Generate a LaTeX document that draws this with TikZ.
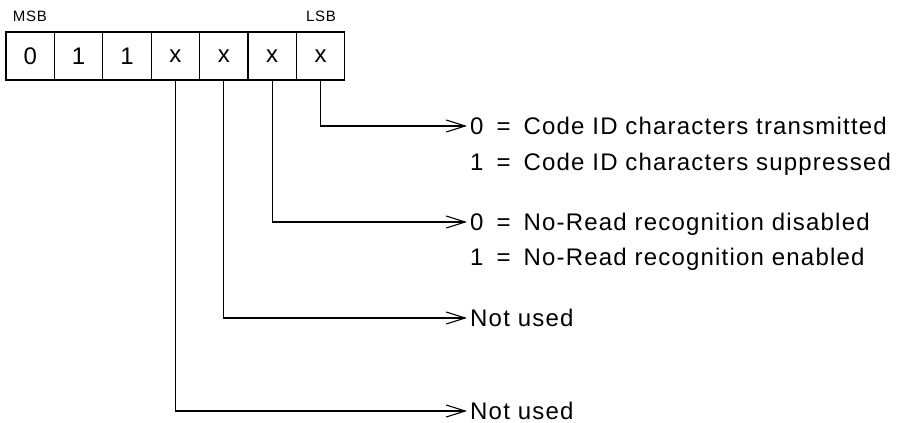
\documentclass[tikz,border=0pt]{standalone}
\usepackage{fontspec}
\setmainfont{Liberation Sans}
\newfontfamily\widefont[LetterSpace=5]{Liberation Sans}
\usepackage{tikz}
\usetikzlibrary{arrows.meta,positioning}
\tikzstyle{cell} = [rectangle, draw=black, line width=1.2pt, outer sep=0pt, minimum width=48.4pt, minimum height=48pt, inner sep=0pt, font=\fontsize{24}{27}\selectfont]
\tikzstyle{tag} = [font=\widefont\fontsize{15}{17}\selectfont]
\tikzstyle{meaning} = [anchor=west, inner sep=3pt, text height=17pt, text depth=0pt, font=\widefont\fontsize{24}{28}\selectfont]
\tikzstyle{arrow} = [line width=1.1pt, -{Straight Barb[length=19pt, width=12pt, line width=1.1pt]}]
\newcommand{\eqsign}{\hspace{13pt}=\hspace{13pt}}

\begin{document}
\begin{tikzpicture}[x=1pt, y=-1pt]
\useasboundingbox (0,0) rectangle (897,423);
% Register bits
\node (b6) [cell] at (30.2,56) {0};
\node (b5) [cell, right=0pt of b6] {1};
\node (b4) [cell, right=0pt of b5] {1};
\node (b3) [cell, right=0pt of b4] {x};
\node (b2) [cell, right=0pt of b3] {x};
\node (b1) [cell, right=0pt of b2] {x};
\node (b0) [cell, right=0pt of b1] {x};
\node (msb) [tag] at (30,16) {MSB};
\node (lsb) [tag] at (321,16) {LSB};

% Bit meanings
\node (code0) [meaning] at (467,126) {0\eqsign Code ID characters transmitted};
\node (code1) [meaning] at (467,162) {1\eqsign Code ID characters suppressed};
\node (nr0) [meaning] at (467,222) {0\eqsign No-Read recognition disabled};
\node (nr1) [meaning] at (467,257) {1\eqsign No-Read recognition enabled};
\node (unused2) [meaning] at (467,318) {Not used};
\node (unused3) [meaning] at (467,411) {Not used};

\draw[arrow] (b0.south) |- (code0.west);
\draw[arrow] (b1.south) |- (nr0.west);
\draw[arrow] (b2.south) |- (unused2.west);
\draw[arrow] (b3.south) |- (unused3.west);
\end{tikzpicture}
\end{document}
